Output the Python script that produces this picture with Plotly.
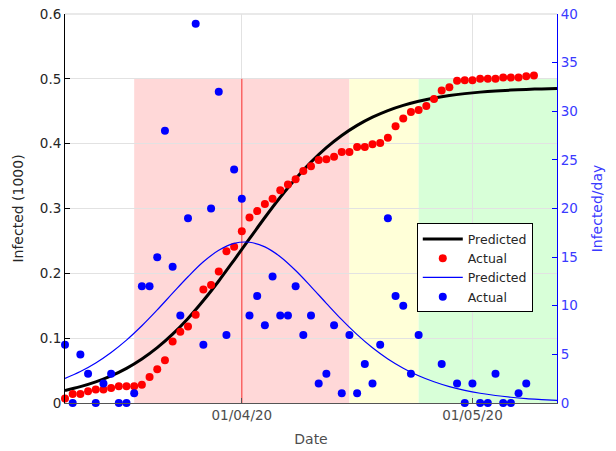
import datetime as dt
import plotly.graph_objects as go

# ---------------- data ----------------
start_date = "2020-03-09"

actual_cum = [0.007, 0.014, 0.014, 0.018, 0.021, 0.021, 0.023, 0.026, 0.026, 0.026,
              0.028, 0.040, 0.052, 0.066, 0.095, 0.110, 0.118, 0.136, 0.175, 0.182,
              0.203, 0.234, 0.241, 0.265, 0.286, 0.296, 0.307, 0.315, 0.328, 0.337,
              0.345, 0.358, 0.365, 0.375, 0.376, 0.380, 0.387, 0.387, 0.395, 0.395,
              0.399, 0.401, 0.409, 0.427, 0.439, 0.449, 0.452, 0.458, 0.469, 0.482,
              0.487, 0.497, 0.498, 0.498, 0.500, 0.500, 0.500, 0.502, 0.502, 0.502,
              0.504, 0.505]

actual_daily = [6, 0, 5, 3, 0, 2, 3, 0, 0, 1,
                12, 12, 15, 28, 14, 9, 19, 39, 6, 20,
                32, 7, 24, 21, 9, 11, 8, 13, 9, 9,
                12, 7, 9, 2, 3, 8, 1, 7, 1, 4,
                2, 6, 19, 11, 10, 3, 7, 11, 13, 4,
                10, 2, 0, 2, 0, 0, 3, 0, 0, 1,
                2]

pred_day_offsets = list(range(0, 65, 2))
pred_cum = [0.0194, 0.0252, 0.0325, 0.0418, 0.0534, 0.0678, 0.0853, 0.1061, 0.1304,
            0.1580, 0.1882, 0.2205, 0.2534, 0.2861, 0.3173, 0.3460, 0.3716, 0.3938,
            0.4126, 0.4282, 0.4409, 0.4511, 0.4591, 0.4655, 0.4704, 0.4743, 0.4772,
            0.4795, 0.4813, 0.4826, 0.4837, 0.4845, 0.4851]
pred_daily = [2.53, 3.24, 4.12, 5.20, 6.47, 7.94, 9.57, 11.29, 12.98, 14.52, 15.70,
              16.41, 16.53, 16.05, 15.04, 13.62, 11.97, 10.25, 8.57, 7.03, 5.68,
              4.53, 3.58, 2.80, 2.18, 1.68, 1.30, 1.00, 0.77, 0.59, 0.45, 0.35, 0.26]

phase_starts = ["2020-03-18", "2020-04-15", "2020-04-24"]
phase_ends = ["2020-04-15", "2020-04-24", "2020-05-12"]
phase_colors = ["rgb(255,216,216)", "rgb(255,255,216)", "rgb(216,255,216)"]
phase_top = 0.5
marker_date = "2020-04-01"

x_range = ["2020-03-09", "2020-05-12"]
x_ticks = ["2020-04-01", "2020-05-01"]
y_ticks = [0, 0.1, 0.2, 0.3, 0.4, 0.5, 0.6]
y_tick_labels = ["0", "0.1", "0.2", "0.3", "0.4", "0.5", "0.6"]
y2_ticks = [0, 5, 10, 15, 20, 25, 30, 35, 40]

# ---------------- build dates ----------------
d0 = dt.date.fromisoformat(start_date)
dates_cum = [d0 + dt.timedelta(days=i) for i in range(len(actual_cum))]
dates_daily = [d0 + dt.timedelta(days=i) for i in range(len(actual_daily))]
dates_pred = [d0 + dt.timedelta(days=i) for i in pred_day_offsets]

FONT = "DejaVu Sans"
BLUE = "#0000ff"
BLUE_TXT = "#3a3aff"
DARK = "#262626"
GRID = "#e2e2e2"

fig = go.Figure()

fig.add_trace(go.Scatter(x=dates_pred, y=pred_cum, mode="lines", name="Predicted",
                         line=dict(color="black", width=3, shape="spline"),
                         yaxis="y"))
fig.add_trace(go.Scatter(x=dates_cum, y=actual_cum, mode="markers", name="Actual",
                         marker=dict(color="red", size=8), cliponaxis=False,
                         yaxis="y"))
fig.add_trace(go.Scatter(x=dates_pred, y=pred_daily, mode="lines", name="Predicted",
                         line=dict(color=BLUE, width=1.2, shape="spline"),
                         yaxis="y2"))
fig.add_trace(go.Scatter(x=dates_daily, y=actual_daily, mode="markers", name="Actual",
                         marker=dict(color=BLUE, size=8), cliponaxis=False,
                         yaxis="y2"))

shapes = []
for s, e, c in zip(phase_starts, phase_ends, phase_colors):
    shapes.append(dict(type="rect", xref="x", yref="y", x0=s, x1=e, y0=0, y1=phase_top,
                       fillcolor=c, line=dict(width=0), layer="below"))
shapes.append(dict(type="line", xref="x", yref="y", x0=marker_date, x1=marker_date,
                   y0=0, y1=phase_top, line=dict(color="rgb(255,70,70)", width=1.2),
                   layer="between"))
# top border (grid line at the top of the axes box)
shapes.append(dict(type="line", xref="paper", yref="paper", x0=0, x1=1, y0=1, y1=1,
                   line=dict(color=GRID, width=1.5), layer="below"))

fig.update_layout(
    width=616, height=451,
    margin=dict(l=65, r=59, t=14, b=48, autoexpand=False),
    paper_bgcolor="white", plot_bgcolor="white",
    font=dict(family=FONT, size=13, color=DARK),
    shapes=shapes,
    showlegend=True,
    hovermode=False,
    legend=dict(x=0.715, y=0.462, xanchor="left", yanchor="top",
                bgcolor="white", bordercolor="black", borderwidth=1,
                font=dict(family=FONT, size=12.5, color=DARK),
                tracegroupgap=0, itemwidth=40),
    xaxis=dict(type="date", range=x_range, tickvals=x_ticks, tickformat="%d/%m/%y",
               showgrid=True, gridcolor=GRID, gridwidth=1,
               ticks="inside", ticklen=5, tickcolor="#555555",
               showline=True, linecolor="#555555", linewidth=1,
               zeroline=False, tickfont=dict(color="#4d4d4d", size=13.5),
               title=dict(text="Date", font=dict(size=14, color="#4d4d4d"), standoff=11)),
    yaxis=dict(range=[0, 0.6], tickvals=y_ticks, ticktext=y_tick_labels,
               showgrid=True, gridcolor=GRID, gridwidth=1,
               ticks="inside", ticklen=5, tickcolor="black",
               showline=True, linecolor="black", linewidth=1, zeroline=False,
               tickfont=dict(color=DARK, size=13.5),
               title=dict(text="Infected (1000)", font=dict(size=14, color=DARK), standoff=12)),
    yaxis2=dict(range=[0, 40], tickvals=y2_ticks, overlaying="y", side="right",
                showgrid=False, ticks="inside", ticklen=5, tickcolor=BLUE,
                showline=True, linecolor=BLUE, linewidth=1, zeroline=False,
                tickfont=dict(color=BLUE_TXT, size=13.5),
                title=dict(text="Infected/day", font=dict(size=14, color=BLUE_TXT), standoff=15)),
)

fig.write_html("out.html", config={"displayModeBar": False, "staticPlot": True})

# remove the browser's default page margin so the figure fills the window exactly
with open("out.html", "r", encoding="utf-8") as fh:
    html = fh.read()
html = html.replace("<body>", '<body style="margin:0;padding:0;overflow:hidden">', 1)
with open("out.html", "w", encoding="utf-8") as fh:
    fh.write(html)
